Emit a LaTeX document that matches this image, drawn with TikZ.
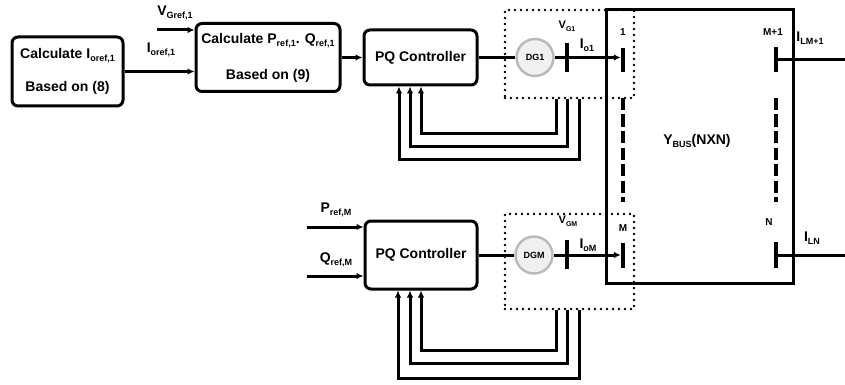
\documentclass[tikz,border=0pt]{standalone}
\usepackage{fontspec}
\setmainfont{Liberation Sans}
\usetikzlibrary{arrows.meta}
\newcommand\sbs[1]{\raisebox{-0.45ex}{\fontsize{9}{9}\selectfont #1}}
\newcommand\sbsm[1]{\raisebox{-0.45ex}{\fontsize{7}{7}\selectfont #1}}
\begin{document}
\begin{tikzpicture}[x=1pt,y=-1pt,
  every node/.style={font=\bfseries\fontsize{14}{16}\selectfont},
  blk/.style={draw, line width=3pt, rounded corners=6pt, inner sep=0, align=center},
  ln/.style={line width=3pt},
  arr/.style={ln, -{Latex[length=7pt,width=6.5pt]}},
  bar/.style={fill=black, inner sep=0, minimum width=4pt},
  dg/.style={circle, fill=gray!12, draw=gray!55, line width=2.4pt, minimum size=37pt, inner sep=0, font=\bfseries\fontsize{9}{9}\selectfont},
  dotbox/.style={draw, line width=2.8pt, line cap=round, dash pattern=on 0pt off 6pt, inner sep=0},
  dashln/.style={line width=3.2pt, dash pattern=on 12pt off 4.5pt},
  small/.style={font=\bfseries\fontsize{10}{10}\selectfont},
  vlab/.style={font=\bfseries\fontsize{11}{11}\selectfont}
]
\useasboundingbox[fill=white] (0,0) rectangle (845,385);

% blocks
\node[blk, minimum width=111, minimum height=69] (A) at (67.5,71.5) {Calculate I\sbs{oref,1}\\[17pt]Based on (8)};
\node[blk, minimum width=144, minimum height=68] (B) at (268,57.5) {Calculate P\sbs{ref,1}. Q\sbs{ref,1}\\[20pt]Based on (9)};
\node[blk, minimum width=113, minimum height=55] (PQ1) at (420.5,57.5) {PQ Controller};
\node[blk, minimum width=112, minimum height=68] (PQ2) at (421,255) {PQ Controller};

% DG units
\node[dg] (DG1) at (535,57.5) {DG1};
\node[dg] (DGM) at (534,255) {DGM};

% dotted boxes
\node[dotbox, minimum width=129, minimum height=88] (D1) at (569.5,54) {};
\node[dotbox, minimum width=129, minimum height=95] (D2) at (569.5,261.5) {};

% Ybus box
\node[draw, line width=3pt, minimum width=187, minimum height=273, inner sep=0] (Y) at (699.5,146.5) {};
\node (yt) at (697,141) {Y\sbs{BUS}(NXN)};

% bus bars
\node[bar, minimum height=29] (vg1) at (567,57.5) {};
\node[bar, minimum height=24] (b1) at (623,60) {};
\node[bar, minimum height=25] (bm1) at (776,59.5) {};
\node[bar, minimum height=26] (bn) at (776,255) {};
\node[bar, minimum height=25] (bm) at (623,255.5) {};
\node[bar, minimum height=29] (vgm) at (567,254.5) {};

% dashed bus continuation
\draw[dashln] (623,98) -- (623,202);
\draw[dashln] (776,98) -- (776,202);

% inputs
\coordinate (vgin) at (157,30);
\coordinate (pin) at (307,227);
\coordinate (qin) at (307,276);
\coordinate (e1) at (845,59.5);
\coordinate (e2) at (845,255);

\draw[arr] (A.east) -- (A.east -| B.west);
\draw[arr] (vgin) -- (vgin -| B.west);
\draw[arr] (B.east) -- (B.east -| PQ1.west);
\draw[ln] (PQ1) -- (DG1);
\draw[arr] (DG1) -- (DG1 -| b1.west);
\draw[arr] (pin) -- (pin -| PQ2.west);
\draw[arr] (qin) -- (qin -| PQ2.west);
\draw[ln] (PQ2) -- (DGM);
\draw[arr] (DGM) -- (DGM -| bm.west);
\draw[ln] (bm1) -- (e1);
\draw[ln] (bn) -- (e2);

% feedback 1
\draw[arr] (D1.south -| 556,0) -- (556,133) -- (421,133) -- (PQ1.south -| 421,0);
\draw[arr] (D1.south -| 567,0) -- (567,146) -- (410,146) -- (PQ1.south -| 410,0);
\draw[arr] (D1.south -| 579,0) -- (579,159) -- (399,159) -- (PQ1.south -| 399,0);
% feedback M
\draw[arr] (D2.south -| 556,0) -- (556,350) -- (421,350) -- (PQ2.south -| 421,0);
\draw[arr] (D2.south -| 567,0) -- (567,363) -- (410,363) -- (PQ2.south -| 410,0);
\draw[arr] (D2.south -| 579,0) -- (579,378) -- (398,378) -- (PQ2.south -| 398,0);

% labels
\node (lvg) at (175,13) {V\sbs{Gref,1}};
\node (lio) at (161,50) {I\sbs{oref,1}};
\node (lpr) at (336,210) {P\sbs{ref,M}};
\node (lqr) at (336,260) {Q\sbs{ref,M}};
\node[vlab] (lvg1) at (567,26) {V\sbsm{G1}};
\node (lio1) at (587,45) {I\sbs{o1}};
\node[vlab] (lvgm) at (568,221) {V\sbsm{GM}};
\node (liom) at (588,245) {I\sbs{oM}};
\node[small] (n1) at (623,32) {1};
\node[small] (nm1) at (773,32) {M+1};
\node[small] (nm) at (623,228) {M};
\node[small] (nn) at (769,222) {N};
\node (lilm) at (810,38) {I\sbs{LM+1}};
\node (liln) at (812,238) {I\sbs{LN}};
\end{tikzpicture}
\end{document}
